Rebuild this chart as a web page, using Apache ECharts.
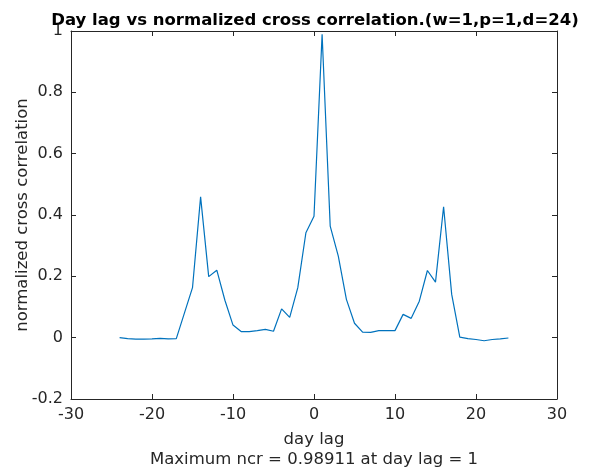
<!DOCTYPE html>
<html>
<head>
<meta charset="utf-8">
<script src="https://cdn.jsdelivr.net/npm/echarts@6/dist/echarts.min.js"></script>
<style>html,body{margin:0;padding:0;background:#fff;}#c{width:593px;height:468px;}</style>
</head>
<body>
<div id="c"></div>
<script>
const lags = [-24,-23,-22,-21,-20,-19,-18,-17,-16,-15,-14,-13,-12,-11,-10,-9,-8,-7,-6,-5,-4,-3,-2,-1,0,1,2,3,4,5,6,7,8,9,10,11,12,13,14,15,16,17,18,19,20,21,22,23,24];
const ncr = [0.000,-0.003,-0.005,-0.005,-0.004,-0.002,-0.004,-0.003,0.080,0.163,0.459,0.199,0.220,0.122,0.041,0.020,0.020,0.023,0.027,0.021,0.094,0.066,0.163,0.342,0.396,0.98911,0.364,0.266,0.125,0.047,0.018,0.017,0.023,0.023,0.023,0.076,0.063,0.119,0.219,0.181,0.427,0.141,0.002,-0.003,-0.006,-0.010,-0.006,-0.004,-0.001];
const titleText = 'Day lag vs normalized cross correlation.(w=1,p=1,d=24)';
const xLabel = 'day lag';
const subLabel = 'Maximum ncr = 0.98911 at day lag = 1';
const yLabel = 'normalized cross correlation';

const font = 'DejaVu Sans';
const axisCol = '#262626';
const chart = echarts.init(document.getElementById('c'));
const baseAxis = {
  axisLine:{show:true,onZero:false,lineStyle:{color:axisCol,width:1}},
  axisTick:{show:true,inside:true,length:5,lineStyle:{color:axisCol}},
  splitLine:{show:false}
};
chart.setOption({
  animation:false,
  backgroundColor:'#fff',
  title:{text:titleText,left:310,textAlign:'center',top:7,
    textStyle:{fontFamily:font,fontWeight:'bold',fontSize:16.5,color:'#000'}},
  grid:{left:71,right:36,top:31,bottom:69,containLabel:false,outerBoundsMode:'none'},
  xAxis:[
    Object.assign({},baseAxis,{type:'value',min:-30,max:30,interval:10,position:'bottom',
      axisLabel:{fontFamily:font,fontSize:16,color:axisCol,margin:8},
      name:xLabel+'\n'+subLabel,nameLocation:'middle',nameGap:31,
      nameTextStyle:{fontFamily:font,fontSize:16.5,color:axisCol,lineHeight:20,verticalAlign:'top'}}),
    Object.assign({},baseAxis,{type:'value',min:-30,max:30,interval:10,position:'top',axisLabel:{show:false}})
  ],
  yAxis:[
    Object.assign({},baseAxis,{type:'value',min:-0.2,max:1,interval:0.2,position:'left',
      axisLabel:{fontFamily:font,fontSize:16,color:axisCol,margin:8,
        formatter:v=>{const r=Math.round(v*10)/10; return r===0?'0':String(r);}},
      name:yLabel,nameLocation:'middle',nameGap:40,nameMoveOverlap:false,
      nameTextStyle:{fontFamily:font,fontSize:16.5,color:axisCol}}),
    Object.assign({},baseAxis,{type:'value',min:-0.2,max:1,interval:0.2,position:'right',axisLabel:{show:false}})
  ],
  series:[{type:'line',data:lags.map((l,i)=>[l,ncr[i]]),showSymbol:false,
    lineStyle:{color:'#0072BD',width:1.2},itemStyle:{color:'#0072BD'}}]
});
</script>
</body>
</html>
